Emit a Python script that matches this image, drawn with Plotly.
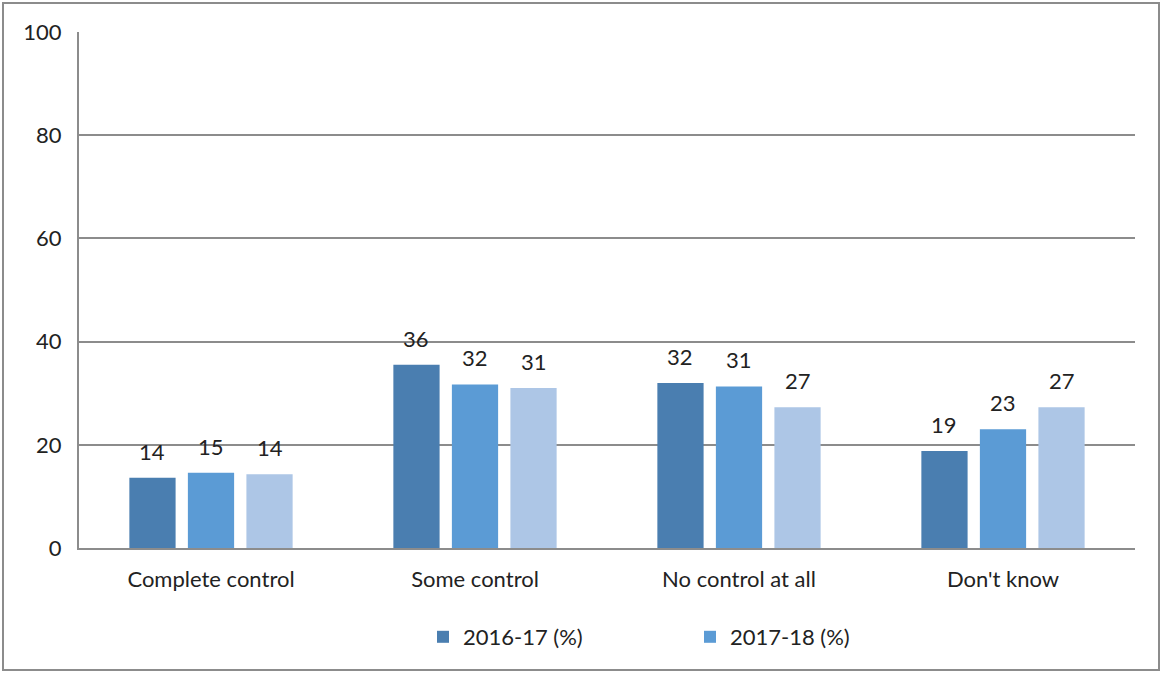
import plotly.graph_objects as go

categories = ["Complete control", "Some control", "No control at all", "Don't know"]
series_names = ["2016-17 (%)", "2017-18 (%)", "2018-19 (%)"]
values_2016 = [13.6, 35.5, 32.0, 18.8]
values_2017 = [14.6, 31.7, 31.3, 23.0]
values_2018 = [14.3, 31.0, 27.3, 27.3]
y_ticks = [0, 20, 40, 60, 80, 100]

colors = ["#4A7EB0", "#5B9BD5", "#ADC6E6"]
series = [values_2016, values_2017, values_2018]
in_legend = [True, True, False]

FONT = "Lato"
FSIZE = 22
GRID = "#8C8C8C"

# plot-area geometry in pixels
W, H = 1162, 673
L, R, T, B = 79, 27, 32, 125
plot_w = W - L - R
ph = H - T - B
bargap = 0.335
bargroupgap = 0.21
cat_px = plot_w / len(categories)
slot_px = cat_px * (1 - bargap) / len(series)

fig = go.Figure()
for name, vals, col, show in zip(series_names, series, colors, in_legend):
    fig.add_trace(go.Bar(
        x=categories, y=vals, name=name, marker_color=col,
        marker_line_width=0, showlegend=show,
    ))

# value labels above each bar
for i, vals in enumerate(series):
    for cat, v in zip(categories, vals):
        fig.add_annotation(
            x=cat, y=v, text=f"{v:.0f}", showarrow=False,
            xref="x", yref="y", yanchor="bottom",
            xshift=(i - 1) * slot_px, yshift=11,
            font=dict(family=FONT, size=FSIZE, color="#222222"),
        )

# outer frame around the whole chart
fig.add_shape(
    type="rect", xref="paper", yref="paper",
    x0=(3 - L) / plot_w, x1=(W - 3 - L) / plot_w,
    y0=(H - B - (H - 3)) / ph, y1=(H - B - 3) / ph,
    line=dict(color="#8C8C8C", width=2), fillcolor="rgba(0,0,0,0)", layer="below",
)

fig.update_layout(
    width=W, height=H,
    margin=dict(l=L, r=R, t=T, b=B),
    paper_bgcolor="white", plot_bgcolor="white",
    barmode="group", bargap=bargap, bargroupgap=bargroupgap,
    font=dict(family=FONT, size=FSIZE, color="#222222"),
    legend=dict(
        orientation="h", x=(423 - L) / plot_w, xanchor="left",
        y=(H - B - 637) / ph, yanchor="middle",
        font=dict(family=FONT, size=FSIZE, color="#222222"),
        itemwidth=30, tracegroupgap=0,
        entrywidth=222, entrywidthmode="pixels",
    ),
    xaxis=dict(
        showline=True, linecolor=GRID, linewidth=2,
        showgrid=False, ticks="", ticklabelstandoff=11,
        tickfont=dict(family=FONT, size=FSIZE),
    ),
    yaxis=dict(
        range=[0, 100], tickvals=y_ticks,
        showgrid=True, gridcolor=GRID, gridwidth=2,
        showline=True, linecolor=GRID, linewidth=2,
        zeroline=False, ticks="", ticklabelstandoff=11,
        tickfont=dict(family=FONT, size=FSIZE),
    ),
)

fig.write_html("out.html")
